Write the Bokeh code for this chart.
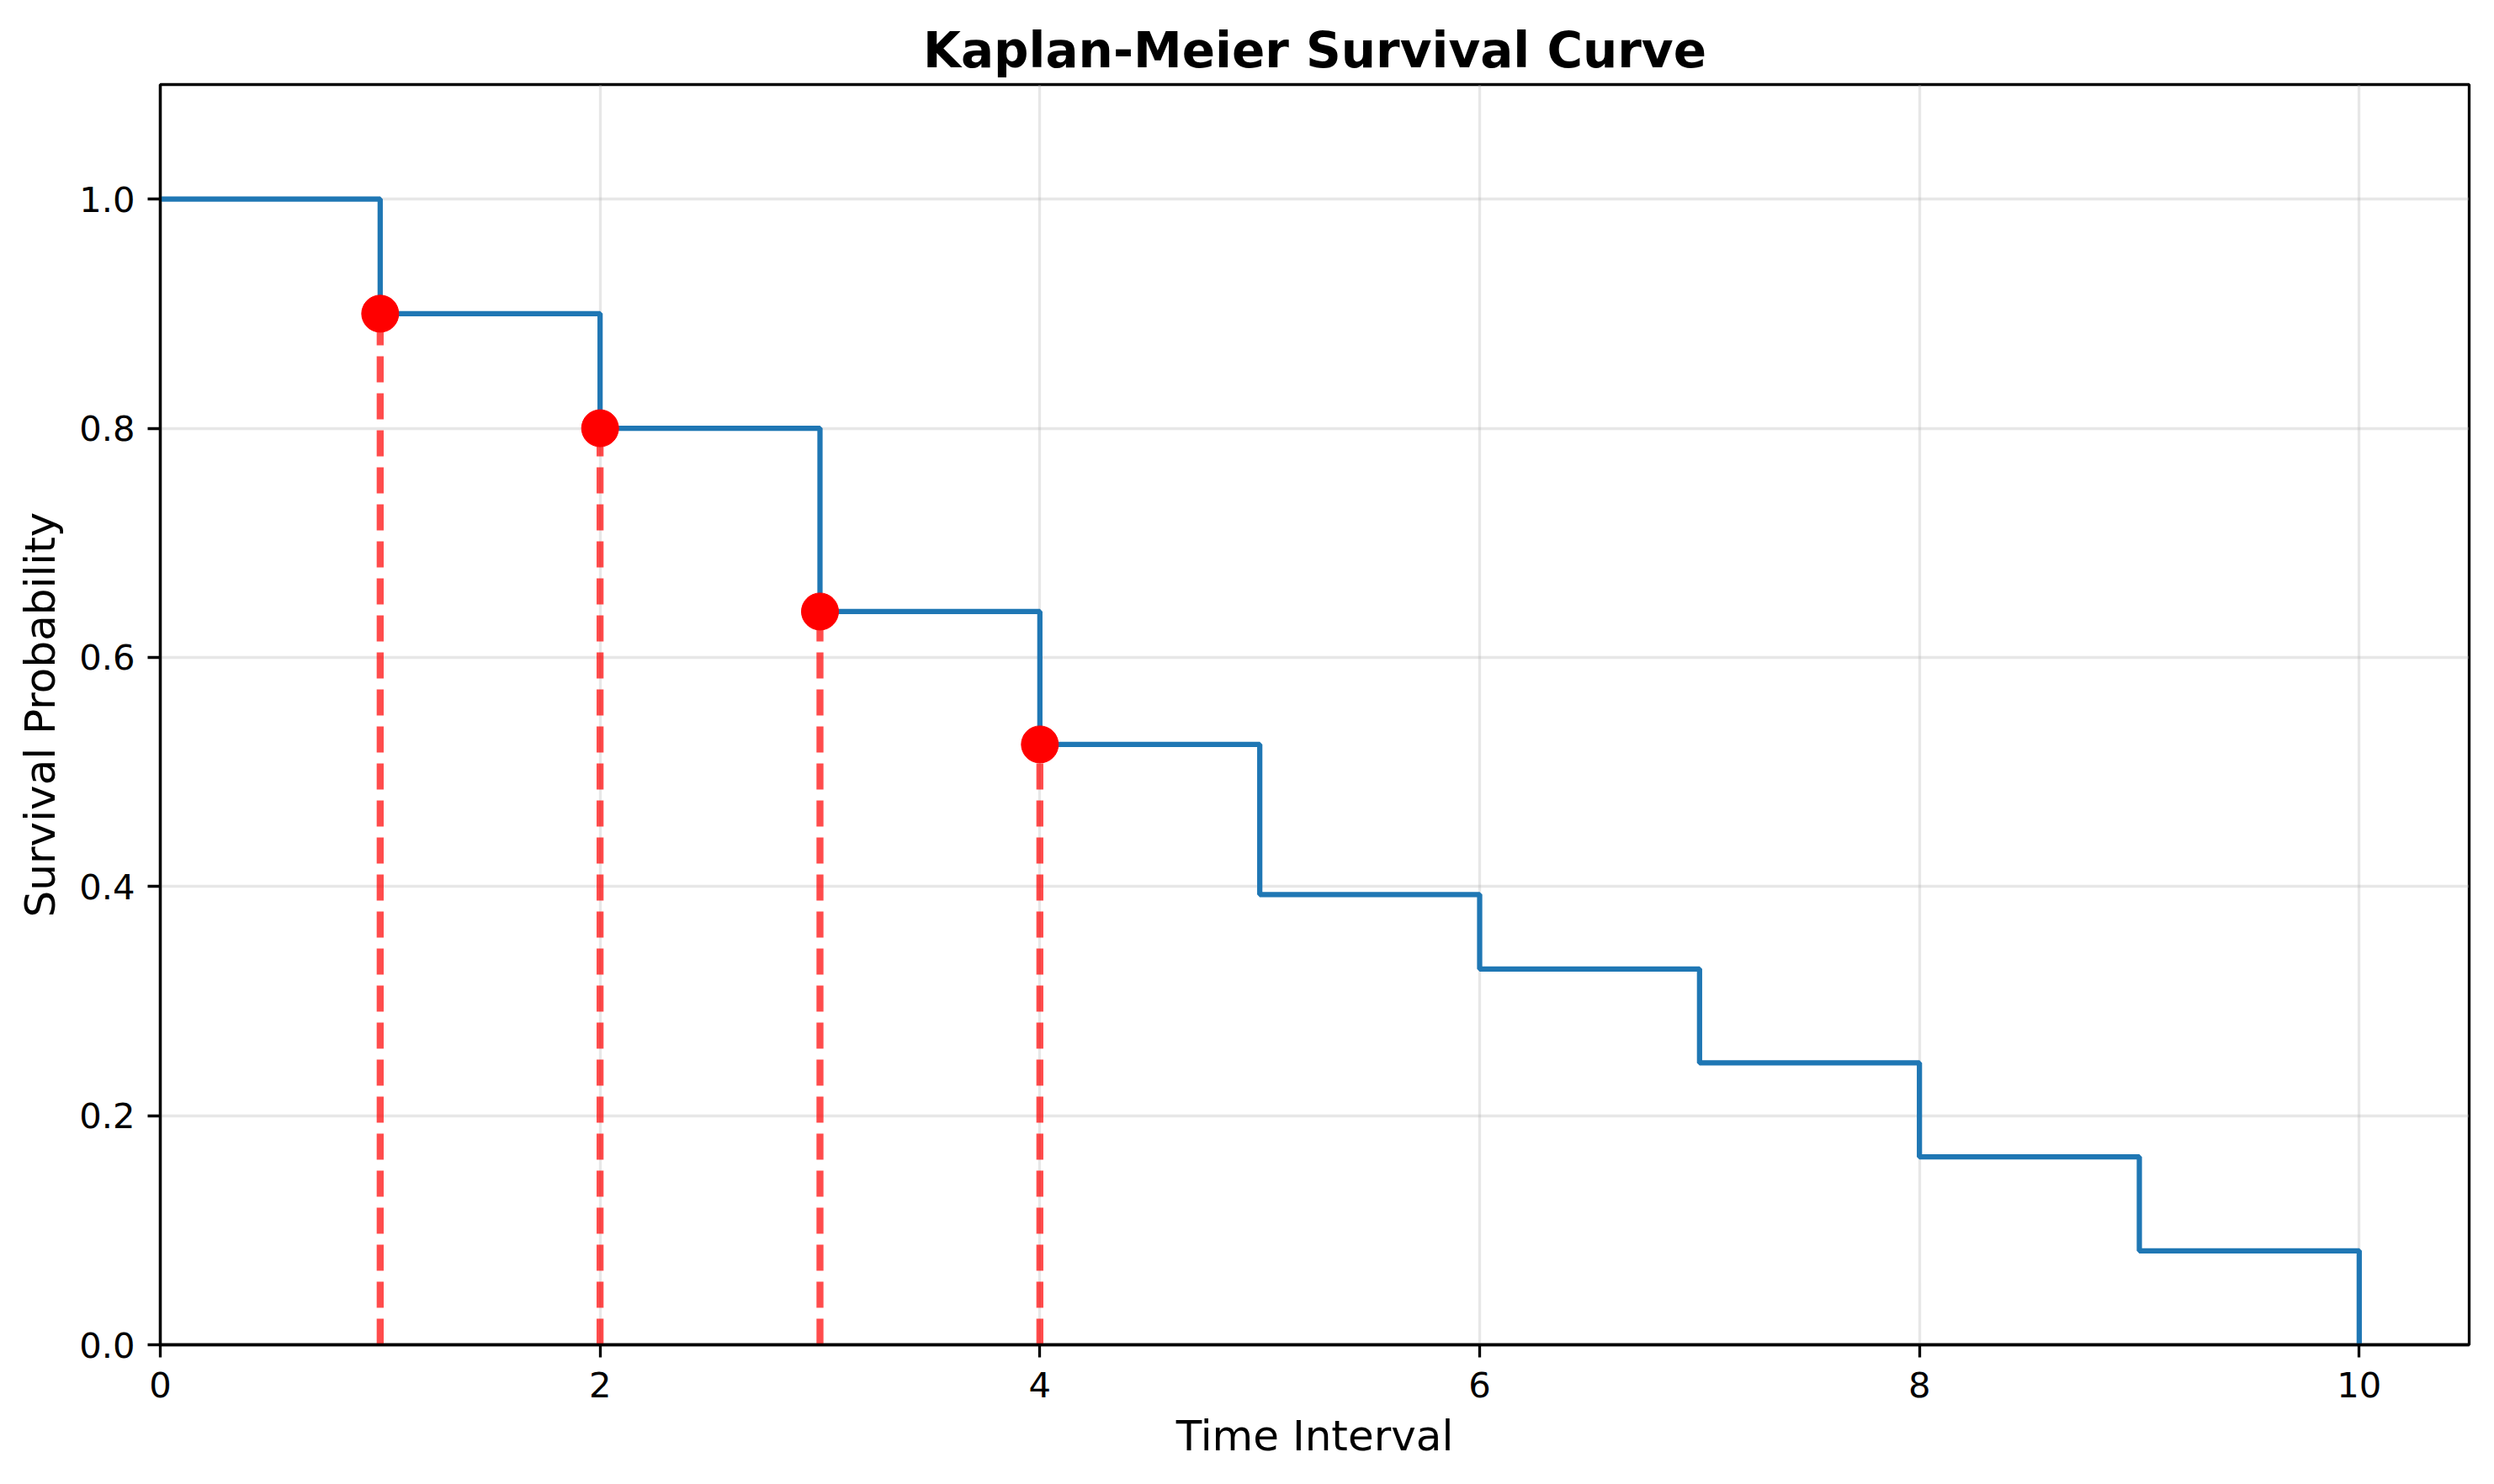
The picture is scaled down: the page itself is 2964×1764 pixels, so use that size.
from bokeh.plotting import figure
from bokeh.models import Range1d, FixedTicker, PrintfTickFormatter
from bokeh.embed import file_html
from bokeh.resources import INLINE

# ---- data ----
times = [0, 1, 2, 3, 4, 5, 6, 7, 8, 9, 10]
survival = [1.0, 0.9, 0.8, 0.64, 0.524, 0.393, 0.328, 0.246, 0.164, 0.082, 0.0]
event_times = [1, 2, 3, 4]
event_survival = [0.9, 0.8, 0.64, 0.524]
x_ticks = [0, 2, 4, 6, 8, 10]
y_ticks = [0.0, 0.2, 0.4, 0.6, 0.8, 1.0]

FONT = "DejaVu Sans"

p = figure(width=2948, height=1748, output_backend="svg", toolbar_location=None,
           x_range=Range1d(0, 10.5), y_range=Range1d(0, 1.1),
           min_border_left=190, min_border_right=14, min_border_top=100, min_border_bottom=150,
           title="Kaplan-Meier Survival Curve")

p.background_fill_color = "white"
p.border_fill_color = "white"
p.outline_line_color = "black"
p.outline_line_width = 3.3

p.title.text_font = FONT
p.title.text_font_size = "58px"
p.title.text_font_style = "bold"
p.title.text_color = "black"
p.title.align = "center"
p.title.standoff = 14

# grid
for g in (p.xgrid, p.ygrid):
    g.grid_line_color = "#b0b0b0"
    g.grid_line_alpha = 0.3
    g.grid_line_width = 3.3
p.xgrid.ticker = FixedTicker(ticks=x_ticks)
p.ygrid.ticker = FixedTicker(ticks=y_ticks)

# axes
p.xaxis.ticker = FixedTicker(ticks=x_ticks)
p.yaxis.ticker = FixedTicker(ticks=y_ticks)
p.xaxis.formatter = PrintfTickFormatter(format="%d")
p.yaxis.formatter = PrintfTickFormatter(format="%.1f")
p.xaxis.axis_label = "Time Interval"
p.yaxis.axis_label = "Survival Probability"
for ax in (p.xaxis, p.yaxis):
    ax.axis_line_color = "black"
    ax.axis_line_width = 3.3
    ax.major_tick_line_color = "black"
    ax.major_tick_line_width = 3.3
    ax.major_tick_out = 15
    ax.major_tick_in = 0
    ax.minor_tick_line_color = None
    ax.major_label_text_font = FONT
    ax.major_label_text_font_size = "41.7px"
    ax.major_label_text_color = "black"
    ax.axis_label_text_font = FONT
    ax.axis_label_text_font_size = "50px"
    ax.axis_label_text_font_style = "normal"
    ax.axis_label_text_color = "black"
p.xaxis.major_label_standoff = 17
p.yaxis.major_label_standoff = 15
p.xaxis.axis_label_standoff = 14
p.yaxis.axis_label_standoff = 14

# survival step curve
p.step(times, survival, mode="after", line_color="#1f77b4", line_width=6.25)

# event markers and dashed drop lines
p.segment(x0=event_times, y0=[0] * len(event_times), x1=event_times, y1=event_survival,
          line_color="red", line_alpha=0.7, line_width=8.3, line_dash="31 13")
p.scatter(event_times, event_survival, size=44, marker="circle",
          fill_color="red", line_color="red")

open("out.html", "w").write(file_html(p, INLINE))
